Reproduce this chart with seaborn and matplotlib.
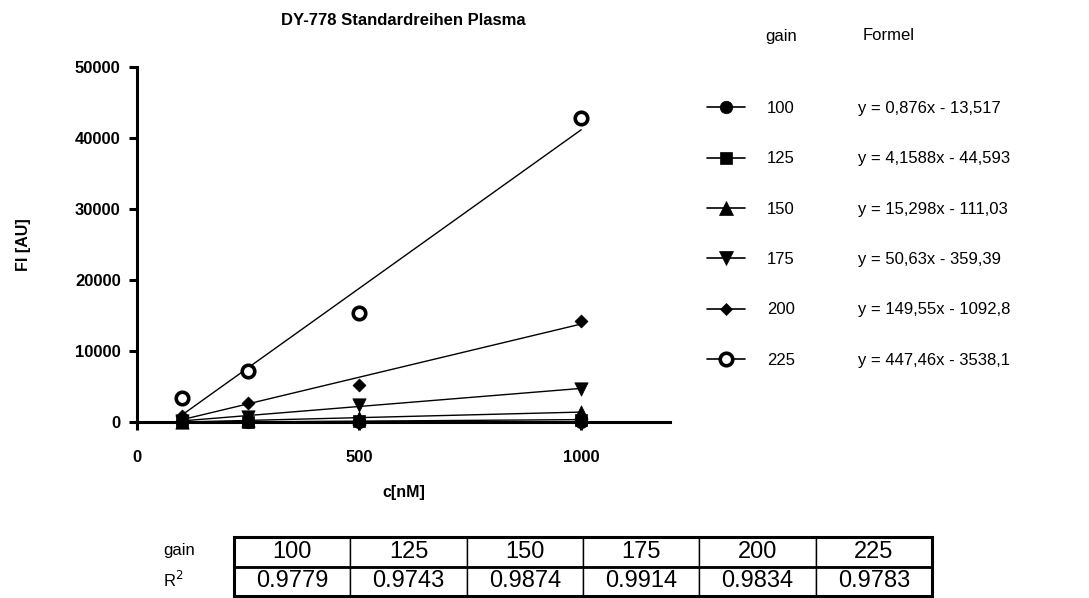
import matplotlib
matplotlib.use("Agg")
import matplotlib.pyplot as plt
from matplotlib.lines import Line2D
from matplotlib.patches import Rectangle
import pandas as pd
import seaborn as sns

# Concentrations of the plasma standard series [nM]
conc_nm = [100, 250, 500, 1000]

# Detector gain settings
gains = [100, 125, 150, 175, 200, 225]

# Fluorescence intensity [AU] per gain
fi_gain100 = [0, 10, 25, 78]
fi_gain125 = [10, 60, 140, 390]
fi_gain150 = [60, 300, 550, 1480]
fi_gain175 = [200, 800, 2450, 4700]
fi_gain200 = [900, 2680, 5270, 14300]
fi_gain225 = [3390, 7150, 15400, 42800]

# Calibration formulas and coefficients of determination
formulas = [
    "y = 0,876x - 13,517",
    "y = 4,1588x - 44,593",
    "y = 15,298x - 111,03",
    "y = 50,63x - 359,39",
    "y = 149,55x - 1092,8",
    "y = 447,46x - 3538,1",
]
r_squared = ["0.9779", "0.9743", "0.9874", "0.9914", "0.9834", "0.9783"]

series = [fi_gain100, fi_gain125, fi_gain150, fi_gain175, fi_gain200, fi_gain225]
df = pd.DataFrame(
    [(g, c, v) for g, vals in zip(gains, series) for c, v in zip(conc_nm, vals)],
    columns=["gain", "c", "fi"],
)

# marker, marker size (pt), face colour, edge width
styles = {
    100: ("o", 9.0, "black", 0.5),
    125: ("s", 8.6, "black", 0.5),
    150: ("^", 9.6, "black", 0.5),
    175: ("v", 9.6, "black", 0.5),
    200: ("D", 6.6, "black", 0.5),
    225: ("o", 9.0, "white", 2.6),
}

sns.set_style("ticks")
plt.rcParams["font.family"] = ["Liberation Sans", "DejaVu Sans"]
plt.rcParams.update({"text.color": "black", "axes.labelcolor": "black",
                     "xtick.color": "black", "ytick.color": "black"})

fig = plt.figure(figsize=(10.89, 5.98), dpi=100)
W, H = 1089, 598
ax = fig.add_axes([137.4 / W, 1 - 422.3 / H, 532.6 / W, 355.3 / H])

for g in gains:
    m, ms, fc, ew = styles[g]
    sub = df[df["gain"] == g]
    sns.regplot(
        data=sub, x="c", y="fi", ax=ax, ci=None, color="black", marker=m,
        scatter_kws=dict(s=ms ** 2, facecolors=fc, edgecolors="black",
                         linewidths=ew, alpha=1, clip_on=False, zorder=4),
        line_kws=dict(color="black", lw=1.0, zorder=3),
    )

ax.set_xlim(0, 1200)
ax.set_ylim(0, 50000)
ax.set_xticks([0, 500, 1000])
ax.set_yticks(range(0, 50001, 10000))
for side in ["top", "right"]:
    ax.spines[side].set_visible(False)
for side in ["left", "bottom"]:
    ax.spines[side].set_linewidth(2.2)
    ax.spines[side].set_color("black")
ax.tick_params(axis="both", direction="out", length=6, width=2.2, color="black",
               labelcolor="black", labelsize=12)
ax.tick_params(axis="x", pad=14)
ax.tick_params(axis="y", pad=6)
for lab in ax.get_xticklabels() + ax.get_yticklabels():
    lab.set_fontweight("bold")

ax.set_xlabel("c[nM]", fontsize=11.5, fontweight="bold", labelpad=14)
ax.set_ylabel("FI [AU]", fontsize=11.5, fontweight="bold")
ax.yaxis.set_label_coords((31 - 137.4) / 532.6, 0.5)
ax.set_title("DY-778 Standardreihen Plasma", fontsize=12, fontweight="bold", pad=30)

# Legend: symbol + gain, formulas in a second column
handles = []
for g in gains:
    m, ms, fc, ew = styles[g]
    handles.append(Line2D([], [], color="black", lw=1.2, marker=m, markersize=ms,
                          markerfacecolor=fc, markeredgecolor="black",
                          markeredgewidth=ew))
leg = fig.legend(handles, [str(g) for g in gains], loc="upper left",
                 bbox_to_anchor=(707 / W, 1 - 101 / H), frameon=False,
                 fontsize=12, handlelength=2.3, handletextpad=1.3,
                 labelspacing=2.12, borderpad=0, borderaxespad=0)

fig.text(765 / W, 1 - 36 / H, "gain", fontsize=12, va="center", ha="left")
fig.text(863 / W, 1 - 36 / H, "Formel", fontsize=12, va="center", ha="left")

fig.canvas.draw()
for t, f in zip(leg.get_texts(), formulas):
    bb = t.get_window_extent()
    yc = (bb.y0 + bb.y1) / 2 / fig.bbox.height
    fig.text(858 / W, yc, f, fontsize=12, va="center", ha="left")

# Table of R² values
tx0, tx1, ty0, ty1 = 234, 932, 537, 596
ax_tab = fig.add_axes([tx0 / W, 1 - ty1 / H, (tx1 - tx0) / W, (ty1 - ty0) / H])
ax_tab.axis("off")
tbl = ax_tab.table(cellText=[[str(g) for g in gains], r_squared],
                   cellLoc="center", bbox=[0, 0, 1, 1])
tbl.auto_set_font_size(False)
for cell in tbl.get_celld().values():
    cell.set_linewidth(1.0)
    cell.set_edgecolor("black")
    cell.get_text().set_fontsize(17)
    cell.get_text().set_color("black")
ax_tab.add_patch(Rectangle((0, 0), 1, 1, fill=False, lw=2.2, edgecolor="black",
                           transform=ax_tab.transAxes, clip_on=False, zorder=5))
ax_tab.plot([0, 1], [0.5, 0.5], color="black", lw=2.0, transform=ax_tab.transAxes,
            clip_on=False, zorder=5)

fig.text(163 / W, 1 - 551 / H, "gain", fontsize=12, va="center", ha="left")
fig.text(163 / W, 1 - 580 / H, "R$^{2}$", fontsize=12, va="center", ha="left")

fig.savefig("out.png", dpi=100)
